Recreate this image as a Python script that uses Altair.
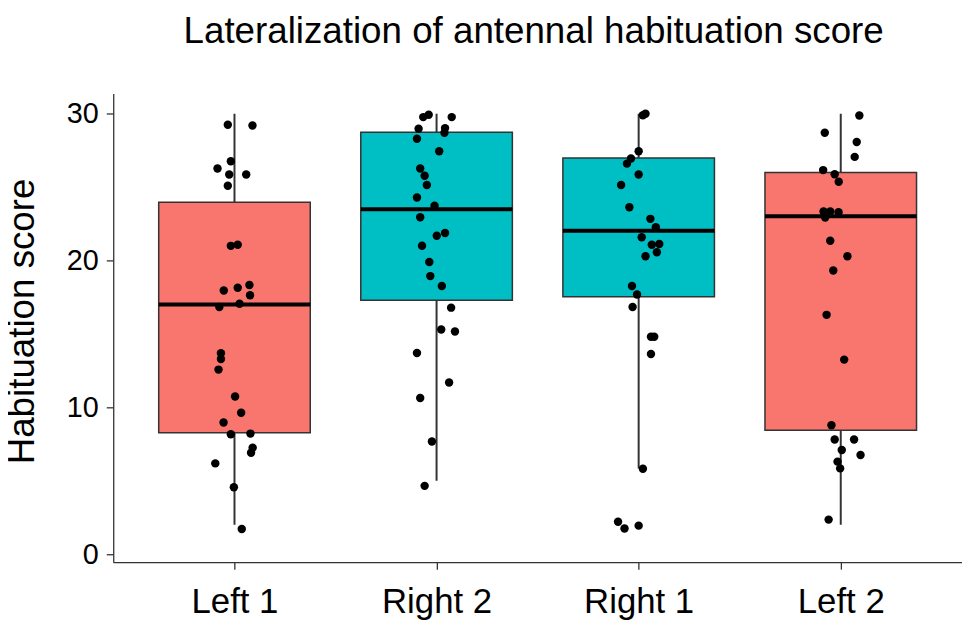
import altair as alt
import pandas as pd

# ---- data ----
GROUPS = ["Left 1", "Right 2", "Right 1", "Left 2"]
SIDES = ["Left", "Right", "Right", "Left"]
WHISK_LO = [2.0, 5.0, 5.84, 2.0]
Q1 = [8.26, 17.29, 17.54, 8.44]
MEDIAN = [17.0, 23.49, 22.03, 23.02]
Q3 = [23.97, 28.74, 26.99, 26.0]
WHISK_HI = [30.0, 30.0, 30.0, 30.0]

LEFT1_SCORE = [29.25, 29.2, 26.76, 26.27, 25.86, 25.86, 25.1, 21.0, 21.08, 17.96,
               18.15, 18.33, 17.63, 16.84, 17.06, 13.68, 13.29, 12.57, 10.74, 9.63,
               8.96, 8.17, 8.21, 7.24, 6.9, 6.18, 4.56, 1.71]
LEFT1_JITTER = [-0.033, 0.089, -0.018, -0.084, -0.026, 0.058, -0.033, -0.018, 0.016, -0.053,
                0.016, 0.074, 0.077, -0.075, 0.025, -0.067, -0.067, -0.079, 0.003, 0.033,
                -0.054, -0.018, 0.079, 0.090, 0.082, -0.095, -0.003, 0.036]

RIGHT2_SCORE = [29.77, 29.93, 29.77, 28.98, 29.02, 28.7, 28.3, 27.44, 26.27, 25.78,
                25.14, 24.29, 23.74, 22.95, 21.87, 21.69, 21.01, 19.9, 18.94, 18.26,
                16.79, 15.3, 15.17, 13.7, 11.69, 10.63, 7.67, 4.65]
RIGHT2_JITTER = [-0.066, -0.039, 0.075, -0.089, 0.042, 0.039, -0.097, 0.013, -0.081, -0.059,
                 -0.048, -0.097, -0.010, -0.081, 0.042, 0.001, -0.072, -0.036, -0.031, 0.026,
                 0.072, 0.023, 0.091, -0.097, 0.062, -0.081, -0.023, -0.059]

RIGHT1_SCORE = [29.9, 30.0, 27.44, 26.95, 26.6, 25.86, 25.14, 23.63, 22.84, 22.27,
                21.58, 21.08, 21.12, 20.56, 20.29, 18.26, 17.69, 16.84, 14.81, 14.81,
                13.63, 5.82, 2.21, 1.74, 1.94]
RIGHT1_JITTER = [0.021, 0.034, 0.0, -0.038, -0.058, 0.0, -0.087, -0.046, 0.058, 0.085,
                 0.015, 0.065, 0.102, 0.090, 0.034, -0.033, -0.008, -0.030, 0.061, 0.077,
                 0.061, 0.021, -0.102, -0.070, 0.0]

LEFT2_SCORE = [29.88, 28.71, 28.08, 27.06, 26.16, 25.88, 25.37, 23.34, 23.34, 23.29,
               22.93, 21.35, 20.29, 19.32, 16.3, 13.25, 8.78, 7.81, 7.81, 7.09,
               6.75, 6.30, 5.84, 2.35]
LEFT2_JITTER = [0.092, -0.079, 0.079, 0.069, -0.087, -0.030, -0.010, -0.085, -0.052, -0.011,
                -0.077, -0.052, 0.033, -0.037, -0.070, 0.017, -0.046, -0.030, 0.066, 0.005,
                0.098, -0.016, -0.003, -0.060]

Y_TICKS = [0, 10, 20, 30]
TITLE = "Lateralization of antennal habituation score"
Y_TITLE = "Habituation score"

BOX_HALF = 0.375
FONT = "Liberation Sans"

# ---- tables ----
box_df = pd.DataFrame({
    "group": GROUPS, "side": SIDES, "pos": list(range(1, len(GROUPS) + 1)),
    "lo": WHISK_LO, "q1": Q1, "med": MEDIAN, "q3": Q3, "hi": WHISK_HI,
})
box_df["x0"] = box_df["pos"] - BOX_HALF
box_df["x1"] = box_df["pos"] + BOX_HALF

rows = []
for i, (scores, jit) in enumerate([(LEFT1_SCORE, LEFT1_JITTER), (RIGHT2_SCORE, RIGHT2_JITTER),
                                   (RIGHT1_SCORE, RIGHT1_JITTER), (LEFT2_SCORE, LEFT2_JITTER)]):
    for s, j in zip(scores, jit):
        rows.append({"group": GROUPS[i], "xj": i + 1 + j, "score": s})
pts_df = pd.DataFrame(rows)

label_expr = "[" + ",".join(["''"] + ["'" + g + "'" for g in GROUPS]) + "][datum.value]"

xscale = alt.Scale(domain=[0.4, 4.6], nice=False, zero=False)
yscale = alt.Scale(domain=[-0.55, 31.37], nice=False, zero=False)

xaxis = alt.Axis(values=[1, 2, 3, 4], labelExpr=label_expr, title=None, grid=False,
                 labelFontSize=35, labelPadding=16, tickSize=7)
yaxis = alt.Axis(values=Y_TICKS, title=Y_TITLE, grid=False, labelFontSize=29,
                 labelPadding=8, tickSize=7, titleFontSize=37, titleFontWeight="normal",
                 titleFont=FONT, titleColor="black", titleX=-80, titleY=229,
                 titleAngle=-90, titleAlign="center", titleBaseline="alphabetic")

color = alt.Color("side:N", scale=alt.Scale(domain=["Left", "Right"],
                                            range=["#F8766D", "#00BFC4"]), legend=None)

whisk = alt.Chart(box_df).mark_rule(color="#333333", strokeWidth=2).encode(
    x=alt.X("pos:Q", scale=xscale, axis=xaxis),
    y=alt.Y("lo:Q", scale=yscale, axis=yaxis),
    y2="hi:Q",
)
boxes = alt.Chart(box_df).mark_rect(stroke="#333333", strokeWidth=1.5).encode(
    x=alt.X("x0:Q", scale=xscale, axis=xaxis),
    x2="x1:Q",
    y=alt.Y("q1:Q", scale=yscale, axis=yaxis),
    y2="q3:Q",
    color=color,
)
med = alt.Chart(box_df).mark_rule(color="black", strokeWidth=4).encode(
    x=alt.X("x0:Q", scale=xscale, axis=xaxis),
    x2="x1:Q",
    y=alt.Y("med:Q", scale=yscale, axis=yaxis),
)
points = alt.Chart(pts_df).mark_circle(color="black", opacity=1, size=72).encode(
    x=alt.X("xj:Q", scale=xscale, axis=xaxis),
    y=alt.Y("score:Q", scale=yscale, axis=yaxis),
)

chart = alt.layer(whisk, boxes, med, points).properties(
    width=855, height=472,
    autosize=alt.AutoSizeParams(type="none"),
    padding={"left": 106, "top": 84, "right": 0, "bottom": 58},
    title=alt.TitleParams(TITLE, fontSize=37, font=FONT, fontWeight="normal",
                          anchor="middle", offset=43, dx=-4, color="black"),
).configure_view(stroke=None).configure_axis(
    domainColor="#333333", tickColor="#333333", domainWidth=1.3, tickWidth=1.3,
    labelFont=FONT, labelColor="black",
)

chart.save("out.html", embed_options={"renderer": "svg", "actions": False})
